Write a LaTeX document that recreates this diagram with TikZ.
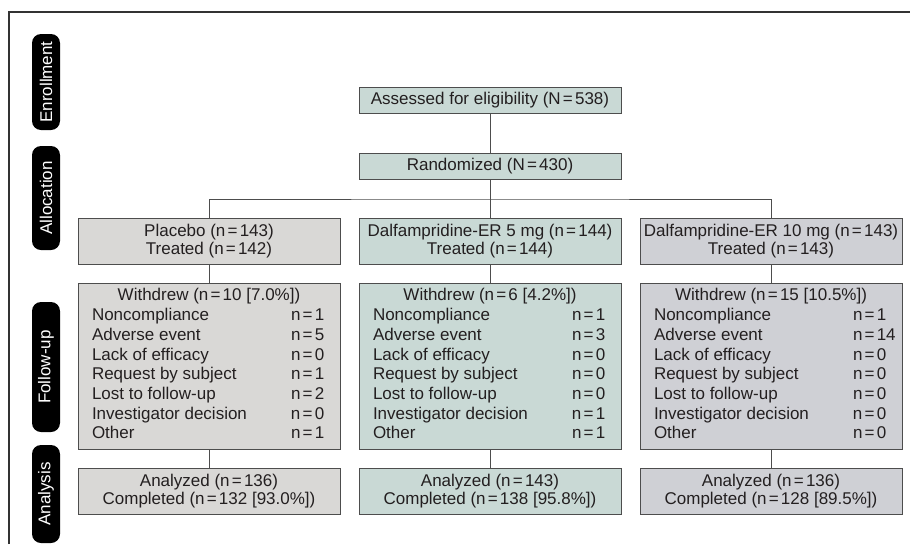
\documentclass[tikz,border=0pt]{standalone}
\usepackage{fontspec}
\setmainfont{Liberation Sans}
\usepackage{tikz}
\definecolor{plgray}{HTML}{D9D8D6}
\definecolor{ergreen}{HTML}{C9D9D5}
\definecolor{erblue}{HTML}{CFD0D5}
\definecolor{edgegray}{HTML}{4D4D4D}
\definecolor{txt}{HTML}{231F20}
\newcommand{\eqn}[1]{n\kern2.2pt=\kern2.2pt#1}
\newcommand{\eqN}[1]{N\kern2.2pt=\kern2.2pt#1}

\begin{document}
\begin{tikzpicture}[x=1pt,y=-1pt,font=\fontsize{17}{19.7}\selectfont,text=txt]
  \tikzstyle{BoxStyle}=[draw=edgegray,line width=1pt,minimum width=262pt,inner sep=0pt]
  \tikzstyle{TwoLine}=[align=center,font=\fontsize{17}{18}\selectfont]
  \tikzstyle{PhaseStyle}=[fill=black,text=white,rounded corners=9pt,rotate=90,minimum height=28pt,inner sep=0pt]
  \tikzstyle{EdgeStyle}=[draw=edgegray,line width=1pt]
  \useasboundingbox (0,0) rectangle (910,544);
  \draw[line width=1.5pt,draw=black!80] (9,544) -- (9,12) -- (910,12);
  % phases
  \node[PhaseStyle,minimum width=96pt] (Enr) at (46,82) {Enrollment};
  \node[PhaseStyle,minimum width=104pt] (Alc) at (46,198) {Allocation};
  \node[PhaseStyle,minimum width=130pt] (Fup) at (46,367) {Follow-up};
  \node[PhaseStyle,minimum width=98pt] (Ana) at (46,494) {Analysis};
  % top
  \node[BoxStyle,fill=ergreen,minimum height=26pt] (Assess) at (490,100) {Assessed for eligibility (\eqN{538})};
  \node[BoxStyle,fill=ergreen,minimum height=26pt] (Rand) at (490,166) {Randomized (\eqN{430})};
  \coordinate (Bus) at (490,199);
  % arms
  \node[BoxStyle,TwoLine,fill=plgray,minimum height=46pt] (Pla) at (209,241) {Placebo (\eqn{143})\\Treated (\eqn{142})};
  \node[BoxStyle,TwoLine,fill=ergreen,minimum height=46pt] (ER5) at (490,241) {Dalfampridine-ER 5 mg (\eqn{144})\\Treated (\eqn{144})};
  \node[BoxStyle,TwoLine,fill=erblue,minimum height=46pt] (ER10) at (771,241) {Dalfampridine-ER 10 mg (\eqn{143})\\Treated (\eqn{143})};
  % withdrawals
  \node[BoxStyle,fill=plgray,minimum height=166pt] (WPla) at (209,366) {%
    \begin{tabular}{@{}p{199pt}@{}p{35pt}@{}}
      \multicolumn{2}{c}{Withdrew (\eqn{10} [7.0\%])}\\
      Noncompliance & \eqn{1}\\
      Adverse event & \eqn{5}\\
      Lack of efficacy & \eqn{0}\\
      Request by subject & \eqn{1}\\
      Lost to follow-up & \eqn{2}\\
      Investigator decision & \eqn{0}\\
      Other & \eqn{1}
    \end{tabular}};
  \node[BoxStyle,fill=ergreen,minimum height=166pt] (WER5) at (490,366) {%
    \begin{tabular}{@{}p{199pt}@{}p{35pt}@{}}
      \multicolumn{2}{c}{Withdrew (\eqn{6} [4.2\%])}\\
      Noncompliance & \eqn{1}\\
      Adverse event & \eqn{3}\\
      Lack of efficacy & \eqn{0}\\
      Request by subject & \eqn{0}\\
      Lost to follow-up & \eqn{0}\\
      Investigator decision & \eqn{1}\\
      Other & \eqn{1}
    \end{tabular}};
  \node[BoxStyle,fill=erblue,minimum height=166pt] (WER10) at (771,366) {%
    \begin{tabular}{@{}p{199pt}@{}p{35pt}@{}}
      \multicolumn{2}{c}{Withdrew (\eqn{15} [10.5\%])}\\
      Noncompliance & \eqn{1}\\
      Adverse event & \eqn{14}\\
      Lack of efficacy & \eqn{0}\\
      Request by subject & \eqn{0}\\
      Lost to follow-up & \eqn{0}\\
      Investigator decision & \eqn{0}\\
      Other & \eqn{0}
    \end{tabular}};
  % analysis
  \node[BoxStyle,TwoLine,fill=plgray,minimum height=46pt] (APla) at (209,491) {Analyzed (\eqn{136})\\Completed (\eqn{132} [93.0\%])};
  \node[BoxStyle,TwoLine,fill=ergreen,minimum height=46pt] (AER5) at (490,491) {Analyzed (\eqn{143})\\Completed (\eqn{138} [95.8\%])};
  \node[BoxStyle,TwoLine,fill=erblue,minimum height=46pt] (AER10) at (771,491) {Analyzed (\eqn{136})\\Completed (\eqn{128} [89.5\%])};
  % links
  \draw[EdgeStyle] (Assess) -- (Rand);
  \draw[EdgeStyle] (Rand) -- (Bus);
  \draw[EdgeStyle] (Pla.north) |- (Bus) -| (ER10.north);
  \draw[EdgeStyle] (Bus) -- (ER5);
  \draw[EdgeStyle] (Pla) -- (WPla);
  \draw[EdgeStyle] (ER5) -- (WER5);
  \draw[EdgeStyle] (ER10) -- (WER10);
  \draw[EdgeStyle] (WPla) -- (APla);
  \draw[EdgeStyle] (WER5) -- (AER5);
  \draw[EdgeStyle] (WER10) -- (AER10);
\end{tikzpicture}
\end{document}
